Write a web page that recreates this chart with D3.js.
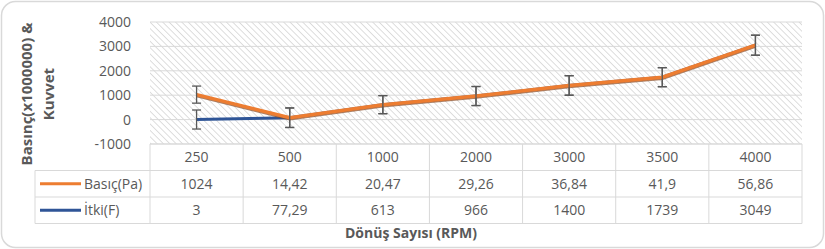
<!DOCTYPE html>
<html>
<head>
<meta charset="utf-8">
<script src="https://cdn.jsdelivr.net/npm/d3@7"></script>
<style>
  body { margin: 0; background: #fff; }
  text { font-family: 'Open Sans', sans-serif; fill: #595959; }
</style>
</head>
<body>
<script>
const WIDTH = 825
const HEIGHT = 249

const CATEGORIES = ['250', '500', '1000', '2000', '3000', '3500', '4000']
const BASINC_LABELS = ['1024', '14,42', '20,47', '29,26', '36,84', '41,9', '56,86']
const ITKI_LABELS = ['3', '77,29', '613', '966', '1400', '1739', '3049']
// values as drawn on the chart
const BASINC_LINE = [1024, 77.29, 613, 966, 1400, 1739, 3049]
const ITKI_LINE = [3, 77.29, 613, 966, 1400, 1739, 3049]
const BASINC_ERR = [350, 400, 370, 390, 400, 390, 410]
const ITKI_ERR = [390, 400, 370, 390, 400, 390, 410]
const Y_TICKS = [-1000, 0, 1000, 2000, 3000, 4000]

const ORANGE = '#ed7d31'
const BLUE = '#2f5597'
const GRID = '#d9d9d9'

const svg = d3.select('body')
  .append('svg')
  .attr('width', WIDTH)
  .attr('height', HEIGHT)

// rounded chart border
svg.append('rect')
  .attr('x', 1.5).attr('y', 1.5)
  .attr('width', WIDTH - 3).attr('height', HEIGHT - 3)
  .attr('rx', 14)
  .attr('fill', '#fff')
  .attr('stroke', GRID)
  .attr('stroke-width', 1.5)

const PLOT = { left: 150, right: 802, top: 22, bottom: 144 }

const x = d3.scaleBand()
  .domain(CATEGORIES)
  .range([PLOT.left, PLOT.right])

const y = d3.scaleLinear()
  .domain([-1000, 4000])
  .range([PLOT.bottom, PLOT.top])

// hatch pattern (wide downward diagonal)
const defs = svg.append('defs')
const pat = defs.append('pattern')
  .attr('id', 'hatch')
  .attr('patternUnits', 'userSpaceOnUse')
  .attr('width', 4.5).attr('height', 4.5)
  .attr('patternTransform', 'rotate(-45)')
pat.append('rect').attr('width', 4.5).attr('height', 4.5).attr('fill', '#fff')
pat.append('line')
  .attr('x1', 0).attr('y1', 0).attr('x2', 0).attr('y2', 4.5)
  .attr('stroke', '#c8c8c8').attr('stroke-width', 1.2)

svg.append('rect')
  .attr('x', PLOT.left).attr('y', PLOT.top)
  .attr('width', PLOT.right - PLOT.left)
  .attr('height', PLOT.bottom - PLOT.top)
  .attr('fill', 'url(#hatch)')

// gridlines
svg.append('g')
  .selectAll('line')
  .data(Y_TICKS)
  .enter()
  .append('line')
  .attr('x1', PLOT.left).attr('x2', PLOT.right)
  .attr('y1', d => y(d)).attr('y2', d => y(d))
  .attr('stroke', GRID)
  .attr('stroke-width', 1)

// y tick labels
svg.append('g')
  .selectAll('text')
  .data(Y_TICKS)
  .enter()
  .append('text')
  .attr('x', 131)
  .attr('y', d => y(d) + 5)
  .attr('text-anchor', 'end')
  .style('font-size', '14px')
  .text(d => d)

// y title (two lines)
const yTitle = svg.append('g')
  .attr('transform', 'translate(0, 94) rotate(-90)')
yTitle.append('text')
  .attr('x', 0).attr('y', 32)
  .attr('text-anchor', 'middle')
  .style('font-size', '15px').style('font-weight', 'bold')
  .text('Basınç(x1000000) &')
yTitle.append('text')
  .attr('x', 0).attr('y', 54)
  .attr('text-anchor', 'middle')
  .style('font-size', '15px').style('font-weight', 'bold')
  .text('Kuvvet')

// data table
const ROWS = [144, 170.5, 197, 223.5]
const table = svg.append('g')
  .attr('stroke', GRID)
  .attr('stroke-width', 1)

table.append('line')
  .attr('x1', PLOT.left).attr('x2', PLOT.right)
  .attr('y1', ROWS[0]).attr('y2', ROWS[0])
ROWS.slice(1).forEach(r => {
  table.append('line')
    .attr('x1', 35).attr('x2', PLOT.right)
    .attr('y1', r).attr('y2', r)
})
table.append('line')
  .attr('x1', 35).attr('x2', 35)
  .attr('y1', ROWS[1]).attr('y2', ROWS[3])
table.selectAll('line.col')
  .data(CATEGORIES)
  .enter()
  .append('line')
  .attr('class', 'col')
  .attr('x1', d => x(d)).attr('x2', d => x(d))
  .attr('y1', ROWS[0]).attr('y2', ROWS[3])
table.append('line')
  .attr('x1', PLOT.right).attr('x2', PLOT.right)
  .attr('y1', ROWS[0]).attr('y2', ROWS[3])

const tableRows = [CATEGORIES, BASINC_LABELS, ITKI_LABELS]
tableRows.forEach((row, i) => {
  svg.append('g')
    .selectAll('text')
    .data(row)
    .enter()
    .append('text')
    .attr('x', (d, j) => x(CATEGORIES[j]) + x.bandwidth() / 2)
    .attr('y', (ROWS[i] + ROWS[i + 1]) / 2 + 5)
    .attr('text-anchor', 'middle')
    .style('font-size', '14px')
    .text(d => d)
})

// legend keys in table
const legendData = [
  { name: 'Basıç(Pa)', color: ORANGE },
  { name: 'İtki(F)', color: BLUE }
]
legendData.forEach((d, i) => {
  const cy = (ROWS[i + 1] + ROWS[i + 2]) / 2
  svg.append('line')
    .attr('x1', 40).attr('x2', 81)
    .attr('y1', cy).attr('y2', cy)
    .attr('stroke', d.color).attr('stroke-width', 3)
  svg.append('text')
    .attr('x', 84).attr('y', cy + 5)
    .style('font-size', '14px')
    .text(d.name)
})

// x title
svg.append('text')
  .attr('x', 411).attr('y', 238)
  .attr('text-anchor', 'middle')
  .style('font-size', '14px').style('font-weight', 'bold')
  .text('Dönüş Sayısı (RPM)')

// lines
const cx = (d, i) => x(CATEGORIES[i]) + x.bandwidth() / 2
const line = d3.line()
  .x(cx)
  .y(d => y(d))

function errorBars(values, errs) {
  const g = svg.append('g')
    .attr('stroke', '#595959')
    .attr('stroke-width', 1.3)
  values.forEach((v, i) => {
    const px = cx(v, i)
    g.append('line')
      .attr('x1', px).attr('x2', px)
      .attr('y1', y(v - errs[i])).attr('y2', y(v + errs[i]))
    ;[v - errs[i], v + errs[i]].forEach(e => {
      g.append('line')
        .attr('x1', px - 4.5).attr('x2', px + 4.5)
        .attr('y1', y(e)).attr('y2', y(e))
    })
  })
}

svg.append('path')
  .datum(ITKI_LINE)
  .attr('d', line)
  .attr('fill', 'none')
  .attr('stroke', BLUE)
  .attr('stroke-width', 3)
errorBars(ITKI_LINE, ITKI_ERR)

svg.append('path')
  .datum(BASINC_LINE)
  .attr('d', line)
  .attr('transform', 'translate(0, 1)')
  .attr('fill', 'none')
  .attr('stroke', '#8a4a22')
  .attr('stroke-width', 3.5)
  .attr('stroke-opacity', 0.7)
svg.append('path')
  .datum(BASINC_LINE)
  .attr('d', line)
  .attr('fill', 'none')
  .attr('stroke', ORANGE)
  .attr('stroke-width', 3.5)
errorBars(BASINC_LINE, BASINC_ERR)
</script>
</body>
</html>
